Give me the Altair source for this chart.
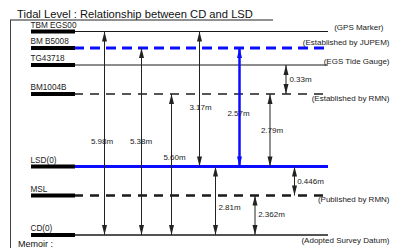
import altair as alt
import pandas as pd

# ---------------- data ----------------
title_text = "Tidal Level : Relationship between CD and LSD"
memoir_text = "Memoir :"

level_names = ["TBM EGS00", "BM B5008", "TG43718", "BM1004B", "LSD(0)", "MSL", "CD(0)"]
level_notes = ["(GPS Marker)", "(Established by JUPEM)", "(EGS Tide Gauge)",
               "(Established by RMN)", "", "(Published by RMN)", "(Adopted Survey Datum)"]
# schematic (not to scale) height of each level above CD, in diagram units
level_diagram_height = [203.5, 187, 170, 141, 68.5, 39.5, 0]

meas_labels = ["5.98m", "5.38m", "5.60m", "3.17m", "2.57m", "2.79m", "0.33m", "0.446m", "2.81m", "2.362m"]
meas_upper = ["TBM EGS00", "BM B5008", "BM1004B", "TBM EGS00", "BM B5008", "BM1004B", "TG43718", "LSD(0)", "LSD(0)", "MSL"]
meas_lower = ["CD(0)", "CD(0)", "CD(0)", "LSD(0)", "LSD(0)", "LSD(0)", "BM1004B", "MSL", "CD(0)", "CD(0)"]

# ---------------- layout (diagram units) ----------------
arrow_col = [96.5, 133.5, 163.5, 191.5, 231.5, 262, 278, 286.5, 207.5, 247]
label_col = [94, 133, 166.5, 192.5, 230.5, 264, 292.5, 302.5, 221.5, 263.5]
label_frac = [0.543, 0.501, 0.454, 0.569, 0.559, 0.51, 0.517, 0.534, 0.606, 0.494]
note_right = [375.5, 381.5, 381.5, 381.5, 381.5, 381.5, 381.5]
note_shift = [-3.5, -5, -3, 5, 0, 4.5, 6]
blue_measure = "2.57m"

W, H = 382, 250
FONT = "Liberation Sans"
BLUE = "#0c0cff"
INK = "#1a1a1a"

level_styles = {
    "TBM EGS00": dict(color=INK, strokeWidth=1),
    "BM B5008": dict(color=BLUE, strokeWidth=3, strokeDash=[10, 6]),
    "TG43718": dict(color=INK, strokeWidth=1),
    "BM1004B": dict(color="#555555", strokeWidth=2, strokeDash=[9, 7]),
    "LSD(0)": dict(color=BLUE, strokeWidth=3),
    "MSL": dict(color=INK, strokeWidth=2.5, strokeDash=[9, 7]),
    "CD(0)": dict(color=INK, strokeWidth=1.5),
}

pos = dict(zip(level_names, level_diagram_height))
levels_df = pd.DataFrame({
    "name": level_names,
    "note": level_notes,
    "h": level_diagram_height,
    "note_x": note_right,
    "note_h": [h - s for h, s in zip(level_diagram_height, note_shift)],
})
meas_df = pd.DataFrame({
    "label": meas_labels,
    "ax": arrow_col,
    "lx": label_col,
    "top": [pos[u] for u in meas_upper],
    "bot": [pos[l] for l in meas_lower],
})
meas_df["ly"] = meas_df["top"] - pd.Series(label_frac) * (meas_df["top"] - meas_df["bot"])
meas_df["kind"] = ["blue" if l == blue_measure else "black" for l in meas_labels]

xs = alt.Scale(domain=[0, W], nice=False, zero=False)
ys = alt.Scale(domain=[-23, 227], nice=False, zero=False)


def X(f):
    return alt.X(f, type="quantitative", scale=xs, axis=None)


def Y(f):
    return alt.Y(f, type="quantitative", scale=ys, axis=None)


def XD(v):
    return alt.XDatum(v, scale=xs, axis=None)


layers = []

# level lines
lv = alt.Chart(levels_df)
for name in level_names:
    layers.append(
        lv.transform_filter(alt.datum.name == name)
        .mark_rule(**level_styles[name])
        .encode(x=XD(66), x2=alt.X2Datum(320), y=Y("h"))
    )
# thick black bars at left
layers.append(lv.mark_rule(color="#000", strokeWidth=4).encode(x=XD(23), x2=alt.X2Datum(67), y=Y("h")))
# level names
layers.append(
    lv.mark_text(align="left", baseline="alphabetic", dy=-4, fontSize=8.2, font=FONT, color=INK)
    .encode(x=XD(22.5), y=Y("h"), text="name:N")
)
# right notes
layers.append(
    lv.mark_text(align="right", baseline="middle", fontSize=8, font=FONT, color=INK)
    .encode(x=X("note_x"), y=Y("note_h"), text="note:N")
)

# arrows
UP = "M0,0L0.5,2L-0.5,2Z"
DOWN = "M0,0L0.5,-2L-0.5,-2Z"
ms = alt.Chart(meas_df)
for kind, col, sw in [("black", "#222", 1), ("blue", BLUE, 2.5)]:
    sub = ms.transform_filter(alt.datum.kind == kind)
    layers.append(sub.mark_rule(color=col, strokeWidth=sw).encode(x=X("ax"), y=Y("top"), y2="bot"))
    layers.append(sub.mark_point(shape=UP, size=100, filled=True, color=col, opacity=1, strokeWidth=0)
                  .encode(x=X("ax"), y=Y("top")))
    layers.append(sub.mark_point(shape=DOWN, size=100, filled=True, color=col, opacity=1, strokeWidth=0)
                  .encode(x=X("ax"), y=Y("bot")))
layers.append(
    ms.mark_text(align="center", baseline="middle", fontSize=8, font=FONT, color=INK)
    .encode(x=X("lx"), y=Y("ly"), text="label:N")
)

# decorations: title, underline, left border, memoir
deco = alt.Chart(pd.DataFrame({"title": [title_text], "memoir": [memoir_text]}))
layers.append(deco.mark_text(align="left", baseline="alphabetic", fontSize=11.2, font=FONT, color="#111")
              .encode(x=alt.value(9), y=alt.value(9.6), text="title:N"))
layers.append(deco.mark_rule(color="#222", strokeWidth=1)
              .encode(x=alt.value(2), x2=alt.value(265), y=alt.value(12)))
layers.append(deco.mark_rule(color="#444", strokeWidth=1)
              .encode(x=alt.value(2.5), y=alt.value(12), y2=alt.value(H)))
layers.append(deco.mark_text(align="left", baseline="alphabetic", fontSize=9, font=FONT, color="#111")
              .encode(x=alt.value(10), y=alt.value(238.8), text="memoir:N"))

chart = (
    alt.layer(*layers)
    .properties(width=W, height=H, autosize=alt.AutoSizeParams(type="none"), padding=0)
    .configure_view(stroke=None)
)

chart.save("out.html", embed_options={"renderer": "svg", "actions": False})
